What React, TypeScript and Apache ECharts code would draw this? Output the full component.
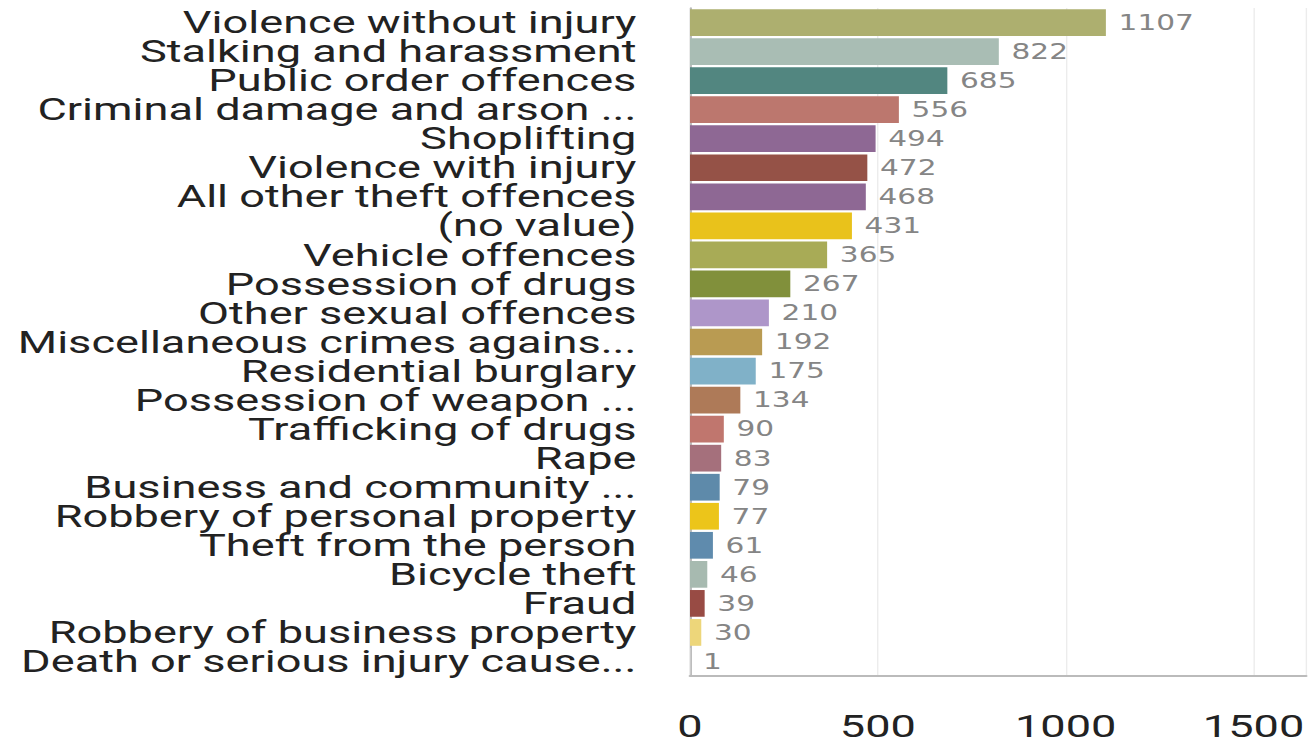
import React, { useEffect, useRef } from "react";
import * as echarts from "echarts";

const categories = [
  "Violence without injury",
  "Stalking and harassment",
  "Public order offences",
  "Criminal damage and arson ...",
  "Shoplifting",
  "Violence with injury",
  "All other theft offences",
  "(no value)",
  "Vehicle offences",
  "Possession of drugs",
  "Other sexual offences",
  "Miscellaneous crimes agains...",
  "Residential burglary",
  "Possession of weapon ...",
  "Trafficking of drugs",
  "Rape",
  "Business and community ...",
  "Robbery of personal property",
  "Theft from the person",
  "Bicycle theft",
  "Fraud",
  "Robbery of business property",
  "Death or serious injury cause...",
];

const values = [1107, 822, 685, 556, 494, 472, 468, 431, 365, 267, 210, 192, 175, 134, 90, 83, 79, 77, 61, 46, 39, 30, 1];

const barColors = [
  "#adaf6f",
  "#a9bdb4",
  "#528680",
  "#bc776e",
  "#8e6894",
  "#955247",
  "#8e6894",
  "#e9c21b",
  "#a8ab56",
  "#81903b",
  "#ae96c9",
  "#b99b52",
  "#80b1c8",
  "#ae7a58",
  "#c0766e",
  "#a5707c",
  "#5e8aaa",
  "#ecc51a",
  "#5f8bad",
  "#a7bab0",
  "#984b44",
  "#edd67a",
  "#e6e6e6",
];

const STRETCH = 1.41;
const W = 1308 / STRETCH;
const GRID_LEFT = 690 / STRETCH;

export default function App() {
  const ref = useRef<HTMLDivElement>(null);
  useEffect(() => {
    if (!ref.current) return;
    const chart = echarts.init(ref.current, undefined, { renderer: "svg" });
    chart.setOption({
      animation: false,
      grid: { left: GRID_LEFT, right: 0, top: 8, bottom: 69, containLabel: false },
      xAxis: {
        type: "value",
        min: 0,
        max: 1640,
        interval: 500,
        axisLine: { show: true, lineStyle: { color: "#bbbbbb", width: 2 } },
        axisTick: { show: false },
        splitLine: { show: true, lineStyle: { color: "#ececec", width: 1 } },
        axisLabel: {
          margin: 34,
          fontFamily: "Roboto",
          fontSize: 32,
          color: "#222222",
          showMaxLabel: false,
          formatter: (v: number) => String(v),
        },
      },
      yAxis: {
        type: "category",
        data: categories,
        inverse: true,
        axisLine: { show: true, lineStyle: { color: "#bbbbbb", width: 1.5 } },
        axisTick: { show: false },
        splitLine: { show: false },
        axisLabel: {
          margin: 38,
          fontFamily: "Roboto",
          fontSize: 32,
          lineHeight: 28,
          color: "#222222",
          interval: 0,
        },
      },
      series: [
        {
          type: "bar",
          data: values.map((v, i) => ({ value: v, itemStyle: { color: barColors[i] } })),
          barCategoryGap: "8%",
          label: {
            show: true,
            position: "right",
            distance: 9,
            fontFamily: "DejaVu Sans",
            fontSize: 21,
            color: "#858585",
          },
        },
      ],
    });
    return () => chart.dispose();
  }, []);
  return (
    <div
      ref={ref}
      style={{
        position: "absolute",
        left: 0,
        top: 0,
        width: W,
        height: 745,
        transform: `scaleX(${STRETCH})`,
        transformOrigin: "0 0",
        background: "#ffffff",
      }}
    />
  );
}
